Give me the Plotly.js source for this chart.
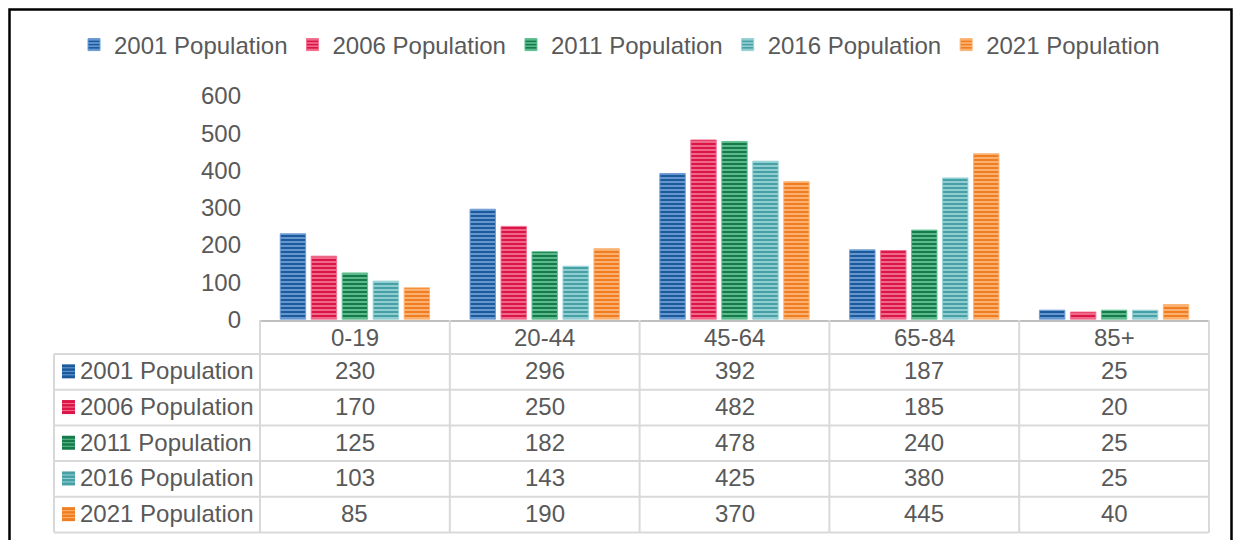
<!DOCTYPE html>
<html><head><meta charset="utf-8">
<script src="https://cdn.plot.ly/plotly-3.0.1.min.js"></script>
<style>body{margin:0;background:#fff}#chart{width:1238px;height:540px}</style>
</head><body><div id="chart"></div>
<script>
const categories = ['0-19', '20-44', '45-64', '65-84', '85+'];
const seriesNames = ['2001 Population', '2006 Population', '2011 Population', '2016 Population', '2021 Population'];
const pop2001 = [230, 296, 392, 187, 25];
const pop2006 = [170, 250, 482, 185, 20];
const pop2011 = [125, 182, 478, 240, 25];
const pop2016 = [103, 143, 425, 380, 25];
const pop2021 = [85, 190, 370, 445, 40];
const yTickValues = [0, 100, 200, 300, 400, 500, 600];

const seriesValues = [pop2001, pop2006, pop2011, pop2016, pop2021];
const darkColors = ['#1b5a9b', '#db1547', '#167a4b', '#46a0a5', '#f07e20'];
const lightColors = ['#6d9dd6', '#f2718f', '#62c293', '#98d2d5', '#fab67a'];

const FONT = 'Liberation Sans, Arial, sans-serif';
const TXT = '#595959';
const FS = 24;
const GRID = '#d9d9d9';

const W = 1238, H = 540;
const M = {l: 54, r: 29, t: 90, b: 7};
const plotW = W - M.l - M.r, plotH = H - M.t - M.b;
const px2x = p => (p - M.l) / plotW;
const px2y = p => (H - M.b - p) / plotH;

const traces = seriesNames.map((name, i) => ({
  type: 'bar',
  name: name,
  x: categories,
  y: seriesValues[i],
  marker: {
    color: darkColors[i],
    line: {color: lightColors[i], width: 1},
    pattern: {shape: '-', fgcolor: lightColors[i], bgcolor: darkColors[i], size: 4, solidity: 0.45}
  },
  hoverinfo: 'skip'
}));

// ---- data table geometry (pixels of the page) ----
const axisLeftPx = 260, tableRightPx = 1209, tableLeftPx = 54;
const headerTopPx = 320, headerBottomPx = 354, rowH = 35.7;
const nCat = categories.length;
const colW = (tableRightPx - axisLeftPx) / nCat;

const shapes = [];
const annotations = [];
const line = (x0, y0, x1, y1) => shapes.push({
  type: 'line', xref: 'paper', yref: 'paper',
  x0: px2x(x0), x1: px2x(x1), y0: px2y(y0), y1: px2y(y1),
  line: {color: GRID, width: 2}, layer: 'above'
});
const tableBottomPx = headerBottomPx + rowH * seriesNames.length;
// horizontal lines
for (let r = 0; r <= seriesNames.length; r++) {
  const y = headerBottomPx + r * rowH;
  line(tableLeftPx, y, tableRightPx, y);
}
// vertical lines
line(tableLeftPx, headerBottomPx, tableLeftPx, tableBottomPx);
for (let c = 0; c <= nCat; c++) {
  const x = axisLeftPx + c * colW;
  line(x, headerTopPx, x, tableBottomPx);
}
// header labels
categories.forEach(c => annotations.push({
  xref: 'x', yref: 'paper', x: c, y: px2y((headerTopPx + headerBottomPx) / 2),
  text: c, showarrow: false, xanchor: 'center', yanchor: 'middle',
  font: {family: FONT, size: FS, color: TXT}
}));
// rows
seriesNames.forEach((name, r) => {
  const cy = headerBottomPx + (r + 0.5) * rowH;
  // legend key square with stripes
  const sx0 = 62, sx1 = 75, sy0 = cy - 7.5, sy1 = cy + 6.5;
  shapes.push({
    type: 'rect', xref: 'paper', yref: 'paper',
    x0: px2x(sx0), x1: px2x(sx1), y0: px2y(sy1), y1: px2y(sy0),
    fillcolor: darkColors[r], line: {width: 0}, layer: 'above'
  });
  for (let k = 1; k <= 3; k++) {
    const yy = sy0 + k * 3.5;
    shapes.push({
      type: 'line', xref: 'paper', yref: 'paper',
      x0: px2x(sx0), x1: px2x(sx1), y0: px2y(yy), y1: px2y(yy),
      line: {color: lightColors[r], width: 1}, layer: 'above'
    });
  }
  annotations.push({
    xref: 'paper', yref: 'paper', x: px2x(78), y: px2y(cy - 1),
    text: name, showarrow: false, xanchor: 'left', yanchor: 'middle',
    font: {family: FONT, size: FS, color: TXT}
  });
  categories.forEach((c, ci) => annotations.push({
    xref: 'x', yref: 'paper', x: c, y: px2y(cy - 1),
    text: String(seriesValues[r][ci]), showarrow: false, xanchor: 'center', yanchor: 'middle',
    font: {family: FONT, size: FS, color: TXT}
  }));
});

// outer black frame
shapes.push({
  type: 'rect', xref: 'paper', yref: 'paper',
  x0: px2x(9.5), x1: px2x(1231.5), y0: px2y(560), y1: px2y(9.5),
  line: {color: '#000000', width: 2.5}, fillcolor: 'rgba(0,0,0,0)', layer: 'above'
});

const layout = {
  width: W, height: H,
  margin: M,
  paper_bgcolor: '#ffffff',
  plot_bgcolor: '#ffffff',
  font: {family: FONT, size: FS, color: TXT},
  barmode: 'group',
  bargap: 0.184,
  bargroupgap: 0.18,
  showlegend: true,
  legend: {
    orientation: 'h',
    x: px2x(619.5), xanchor: 'center',
    y: px2y(45), yanchor: 'middle',
    font: {family: FONT, size: FS, color: TXT},
    itemwidth: 30,
    traceorder: 'normal'
  },
  xaxis: {
    type: 'category',
    domain: [px2x(axisLeftPx), 1],
    showticklabels: false,
    ticks: '',
    showline: true, linecolor: '#bfbfbf', linewidth: 2.5,
    showgrid: false, zeroline: false,
    fixedrange: true
  },
  yaxis: {
    domain: [px2y(319.5), px2y(96)],
    range: [0, 600],
    tickmode: 'array',
    tickvals: yTickValues,
    ticktext: yTickValues.map(String),
    ticks: '',
    ticklabelstandoff: 18,
    showline: false, showgrid: false, zeroline: false,
    tickfont: {family: FONT, size: FS, color: TXT},
    fixedrange: true
  },
  shapes: shapes,
  annotations: annotations
};

Plotly.newPlot('chart', traces, layout, {displayModeBar: false, staticPlot: true});
</script>
</body></html>
